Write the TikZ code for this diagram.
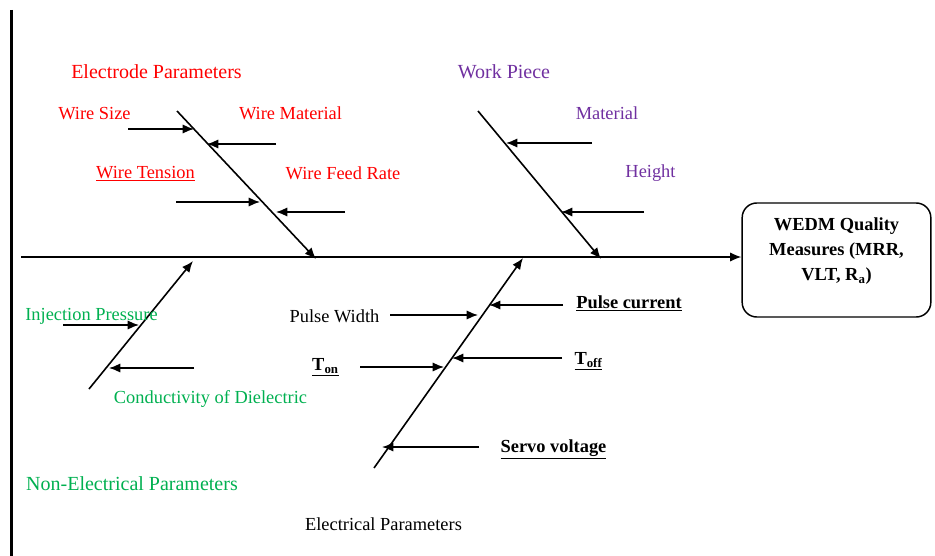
\documentclass[tikz,border=0pt]{standalone}
\usepackage{fontspec}
\setmainfont{Liberation Serif}
\usepackage{xcolor}
\usepackage{tikz}
\usetikzlibrary{arrows.meta,positioning,calc}
\definecolor{fbred}{HTML}{FF0000}
\definecolor{fbpurple}{HTML}{7030A0}
\definecolor{fbgreen}{HTML}{00B050}
\tikzset{
  spine/.style={-{Latex[length=8.5pt,width=7pt]}, line width=1.2pt, draw=black},
  bone/.style={-{Latex[length=8.5pt,width=7pt]}, line width=1.2pt, draw=black},
  cause/.style={-{Latex[length=8.5pt,width=7pt]}, line width=1.2pt, draw=black},
  catlabel/.style={font=\fontsize{15}{18}\selectfont, inner sep=0pt},
  itemlabel/.style={font=\fontsize{13.8}{16.5}\selectfont, inner sep=0pt},
  bolditem/.style={font=\fontsize{13.8}{16.5}\selectfont\bfseries, inner sep=0pt},
  qbox/.style={draw=black, line width=1.1pt, rounded corners=11pt,
    minimum width=141.5pt, minimum height=85.5pt},
  qtext/.style={font=\fontsize{13.8}{18.75}\selectfont\bfseries, align=center, inner sep=0pt}
}

\begin{document}
\begin{tikzpicture}[x=0.75pt,y=-0.75pt]
    \useasboundingbox (0,0) rectangle (935,556);
    % frame line on the left
    \coordinate (ftop) at (11.5,10);
    \coordinate (fbot) at (11.5,556);
    \draw[line width=1.6pt] (ftop) -- (fbot);

    % effect box and spine
    \node[qbox] (wedm) at (836.5,260) {};
    \node[qtext] (wedmtxt) at (836.5,251) {WEDM Quality\\Measures (MRR,\\VLT, R\textsubscript{a})};
    \coordinate (tail) at (21,257);
    \draw[spine] (tail) -- (tail -| wedm.west);

    % electrode parameters
    \coordinate (e1) at (177,111);
    \coordinate (e2) at (316,259);
    \draw[bone] (e1) -- (e2);
    \node[catlabel, text=fbred] (elec) at (156.5,71.5) {Electrode Parameters};
    \node[itemlabel, text=fbred] (wsize) at (94.5,113.5) {Wire Size};
    \node[itemlabel, text=fbred] (wmat) at (290.5,113.5) {Wire Material};
    \node[itemlabel, text=fbred] (wten) at (145.5,173.5) {\underline{Wire Tension}};
    \node[itemlabel, text=fbred] (wfeed) at (343,173.5) {Wire Feed Rate};
    \coordinate (wsA) at (128,129);   \coordinate (wsB) at (194,129);
    \coordinate (wmA) at (276,144);   \coordinate (wmB) at (207,144);
    \coordinate (wtA) at (176,202);   \coordinate (wtB) at (260,202);
    \coordinate (wfA) at (345,212);   \coordinate (wfB) at (276,212);
    \draw[cause] (wsA) -- (wsB);
    \draw[cause] (wmA) -- (wmB);
    \draw[cause] (wtA) -- (wtB);
    \draw[cause] (wfA) -- (wfB);

    % work piece
    \coordinate (p1) at (478,111);
    \coordinate (p2) at (601,259);
    \draw[bone] (p1) -- (p2);
    \node[catlabel, text=fbpurple] (work) at (504,71.5) {Work Piece};
    \node[itemlabel, text=fbpurple] (pmat) at (607,113.5) {Material};
    \node[itemlabel, text=fbpurple] (phgt) at (650.5,173.5) {Height};
    \coordinate (pmA) at (592,143);   \coordinate (pmB) at (506,143);
    \coordinate (phA) at (644,212);   \coordinate (phB) at (561,212);
    \draw[cause] (pmA) -- (pmB);
    \draw[cause] (phA) -- (phB);

    % non-electrical parameters
    \coordinate (n1) at (89,389);
    \coordinate (n2) at (193,261);
    \draw[bone] (n1) -- (n2);
    \node[catlabel, text=fbgreen] (nonel) at (132,483.5) {Non-Electrical Parameters};
    \node[itemlabel, text=fbgreen] (inj) at (91.5,316.5) {Injection Pressure};
    \node[itemlabel, text=fbgreen] (cond) at (210.5,399.5) {Conductivity of Dielectric};
    \coordinate (ipA) at (63,325);    \coordinate (ipB) at (139,325);
    \coordinate (cdA) at (194,368);   \coordinate (cdB) at (109,368);
    \draw[cause] (ipA) -- (ipB);
    \draw[cause] (cdA) -- (cdB);

    % electrical parameters
    \coordinate (l1) at (374,468);
    \coordinate (l2) at (523,258);
    \draw[bone] (l1) -- (l2);
    \node[itemlabel] (elecp) at (383.5,524.5) {Electrical Parameters};
    \node[itemlabel] (pw) at (334.5,316.5) {Pulse Width};
    \node[bolditem] (pc) at (629,303.5) {\underline{Pulse current}};
    \node[bolditem] (ton) at (325.5,367) {\underline{T\textsubscript{on}}};
    \node[bolditem] (toff) at (588.5,361) {\underline{T\textsubscript{off}}};
    \node[bolditem] (servo) at (553.5,449.5) {\underline{Servo voltage}};
    \coordinate (pwA) at (390,315);   \coordinate (pwB) at (478,315);
    \coordinate (pcA) at (563,305);   \coordinate (pcB) at (489,305);
    \coordinate (tnA) at (360,367);   \coordinate (tnB) at (444,367);
    \coordinate (tfA) at (562,358);   \coordinate (tfB) at (452,358);
    \coordinate (svA) at (479,447);   \coordinate (svB) at (382,447);
    \draw[cause] (pwA) -- (pwB);
    \draw[cause] (pcA) -- (pcB);
    \draw[cause] (tnA) -- (tnB);
    \draw[cause] (tfA) -- (tfB);
    \draw[cause] (svA) -- (svB);
\end{tikzpicture}
\end{document}
